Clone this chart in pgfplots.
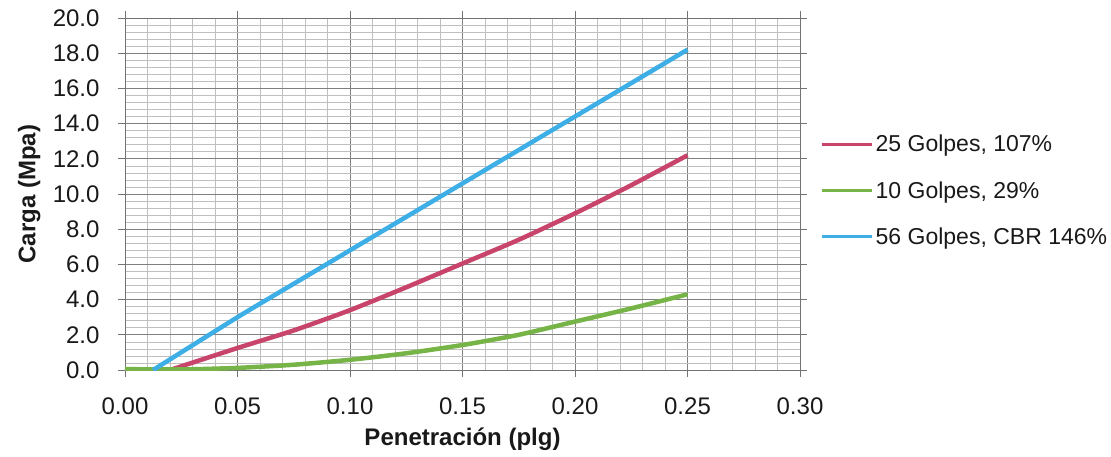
\documentclass[border=0pt]{standalone}
\usepackage{pgfplots}
\pgfplotsset{compat=1.18}
\usepackage{fontspec}
\setmainfont{Liberation Sans}
\definecolor{cred}{HTML}{C8446A}
\definecolor{cgreen}{HTML}{76B447}
\definecolor{cblue}{HTML}{3DAEE6}
\begin{document}
\begin{tikzpicture}[x=1pt,y=1pt]
\path[use as bounding box] (-125,-86) rectangle (986,370);
\begin{axis}[
  at={(0,0)}, anchor=origin,
  scale only axis, width=675pt, height=352pt,
  xmin=0, xmax=0.30, ymin=0, ymax=20,
  xtick={0,0.05,...,0.30}, ytick={0,2,...,20},
  minor x tick num=4, minor y tick num=4,
  grid=both,
  major grid style={draw=black!50, line width=0.9pt},
  minor grid style={draw=black!25, line width=0.6pt},
  axis line style={draw=black!55, line width=0.9pt},
  tick align=outside,
  major tick length=7pt, minor tick length=0pt,
  tick style={draw=black!55, line width=0.9pt},
  /pgf/number format/assume math mode=true,
  xticklabel style={/pgf/number format/fixed, /pgf/number format/fixed zerofill, /pgf/number format/precision=2, yshift=-17pt},
  yticklabel style={/pgf/number format/fixed, /pgf/number format/fixed zerofill, /pgf/number format/precision=1, xshift=-15pt},
  ticklabel style={font=\fontsize{24}{28}\selectfont, text=black!90},
  xlabel={\textbf{Penetración (plg)}},
  ylabel={\textbf{Carga (Mpa)}},
  label style={font=\fontsize{24}{28}\selectfont, text=black!90},
  xlabel style={at={(axis description cs:0.5,0)}, anchor=center, yshift=-69pt},
  ylabel style={at={(axis description cs:-0.142,0.5)}, anchor=center},
  legend style={at={(1.0,0.51)}, anchor=west, xshift=17pt, draw=none, fill=none,
    font=\fontsize{23}{27}\selectfont, text=black!90, row sep=24pt},
  legend cell align=left,
  legend image code/.code={\draw[#1, line width=3.5pt] (0pt,0pt) -- (50pt,0pt);},
  every axis plot/.append style={line width=4.5pt, smooth, tension=0.4, line join=round},
]
\addplot[cred] coordinates {(0.02,0) (0.05,1.25) (0.075,2.25) (0.10,3.4) (0.125,4.7) (0.15,6.05) (0.175,7.4) (0.20,8.9) (0.225,10.5) (0.25,12.2)};
\addlegendentry{25 Golpes, 107\%}
\addplot[cgreen] coordinates {(0,0.05) (0.025,0.03) (0.05,0.12) (0.075,0.3) (0.10,0.58) (0.125,0.95) (0.15,1.42) (0.175,2.0) (0.20,2.75) (0.225,3.5) (0.25,4.3)};
\addlegendentry{10 Golpes, 29\%}
\addplot[cblue] coordinates {(0.0125,0) (0.05,3.0) (0.075,4.9) (0.10,6.8) (0.125,8.7) (0.15,10.6) (0.175,12.5) (0.20,14.4) (0.225,16.3) (0.25,18.2)};
\addlegendentry{56 Golpes, CBR 146\%}
\end{axis}
\end{tikzpicture}
\end{document}
